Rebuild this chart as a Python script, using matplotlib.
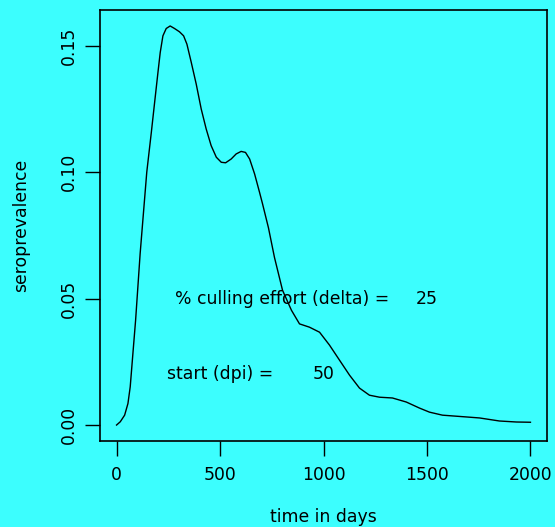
import matplotlib
matplotlib.use("Agg")
import matplotlib.pyplot as plt

days = [0, 18, 39, 55, 66, 79, 92, 103, 114, 127, 146, 168, 184, 200, 211,
        224, 240, 259, 280, 304, 324, 340, 361, 385, 409, 433, 457, 482, 506,
        527, 554, 578, 602, 623, 643, 667, 691, 705, 734, 763, 802, 845, 884,
        932, 981, 1029, 1077, 1126, 1174, 1222, 1271, 1333, 1400, 1464, 1512,
        1575, 1690, 1754, 1850, 1932, 2000]
seroprev = [0.0, 0.0013, 0.0039, 0.0085, 0.0151, 0.0283, 0.0414, 0.0546,
            0.0678, 0.0809, 0.1000, 0.1157, 0.1276, 0.1394, 0.1473, 0.1539,
            0.1568, 0.1578, 0.1568, 0.1555, 0.1539, 0.1506, 0.1434, 0.1348,
            0.1250, 0.1171, 0.1105, 0.1059, 0.1039, 0.1037, 0.1052, 0.1072,
            0.1082, 0.1078, 0.1052, 0.0993, 0.0920, 0.0876, 0.0780, 0.0663,
            0.0533, 0.0454, 0.0400, 0.0387, 0.0367, 0.0316, 0.0257, 0.0197,
            0.0146, 0.0118, 0.0110, 0.0107, 0.0091, 0.0067, 0.0051, 0.0039,
            0.0032, 0.0028, 0.0016, 0.0012, 0.0011]

xticks = [0, 500, 1000, 1500, 2000]
yticks = [0.00, 0.05, 0.10, 0.15]
ytick_labels = ["0.00", "0.05", "0.10", "0.15"]

bg = "#3cfefe"
fs = 12.4
plt.rcParams['font.family'] = ['DejaVu Sans']

fig = plt.figure(figsize=(5.55, 5.27), dpi=100, facecolor=bg)
ax = fig.add_axes([100/555, 1-441/527, 447/555, 431/527], facecolor=bg)
ax.plot(days, seroprev, color="black", lw=1.0)

xr = max(days) - min(days)
ax.set_xlim(min(days) - 0.04*xr, max(days) + 0.04*xr)
yr = max(seroprev) - min(seroprev)
ax.set_ylim(min(seroprev) - 0.04*yr, max(seroprev) + 0.04*yr)

ax.set_xticks(xticks)
ax.set_xticklabels([str(t) for t in xticks], fontsize=fs)
ax.set_yticks(yticks)
ax.set_yticklabels(ytick_labels, fontsize=fs, rotation=90, va='center')
ax.tick_params(axis='both', direction='out', length=11, width=1.0, color='black')
ax.tick_params(axis='x', pad=6.8)
ax.tick_params(axis='y', pad=4.7)
for s in ax.spines.values():
    s.set_color('black')
    s.set_linewidth(1.2)

ax.set_xlabel("time in days", fontsize=fs, labelpad=17.5)
ax.set_ylabel("seroprevalence", fontsize=fs, labelpad=21.8)

ax.text(800, 0.05, "% culling effort (delta) =", fontsize=fs, ha='center', va='center')
ax.text(1500, 0.05, "25", fontsize=fs, ha='center', va='center')
ax.text(500, 0.02, "start (dpi) =", fontsize=fs, ha='center', va='center')
ax.text(1000, 0.02, "50", fontsize=fs, ha='center', va='center')

fig.savefig("out.png", dpi=100, facecolor=bg)
